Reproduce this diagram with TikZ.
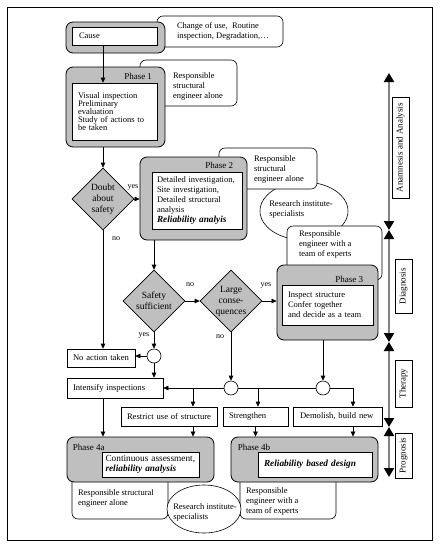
\documentclass[tikz,border=0pt]{standalone}
\usepackage{fontspec}
\setmainfont{Liberation Serif}
\usetikzlibrary{arrows.meta, positioning, shapes.geometric}
\newcommand{\fsbody}{\fontsize{8.5}{10}\selectfont}
\newcommand{\fstight}{\fontsize{8.5}{7.8}\selectfont\lineskiplimit=-6pt}
\newcommand{\fsbig}{\fontsize{9.3}{10.5}\selectfont}
\newcommand{\fsaction}{\fontsize{8.6}{10}\selectfont}
\newcommand{\fsdiamond}{\fontsize{9.5}{11}\selectfont}
\newcommand{\fstag}{\fontsize{9}{10}\selectfont}
\newcommand{\fsanswer}{\fontsize{8}{9}\selectfont}
\newcommand{\fsstage}{\fontsize{9}{10}\selectfont}

\begin{document}
\begin{tikzpicture}[x=1pt, y=-1pt, line width=0.6pt,
  >={Triangle[length=5pt,width=4.5pt]},
  stagetip/.tip={Triangle[length=9pt,width=10pt,color=black]},
  phase/.style={draw, fill=gray!50, rounded corners=7pt, line width=0.8pt, inner sep=0pt},
  inbox/.style={draw, fill=white, align=left, inner ysep=0pt, font=\fsbody},
  callout/.style={draw, fill=white, rounded corners=6pt, inner sep=0pt},
  notetext/.style={align=left, inner sep=0pt, font=\fsbody},
  bubble/.style={ellipse, draw, fill=white, inner sep=0pt},
  decision/.style={diamond, aspect=1, draw, fill=gray!50, inner sep=0pt, minimum width=62pt, minimum height=62pt, align=center, font=\fsdiamond},
  joint/.style={circle, draw, fill=white, minimum size=14pt, inner sep=0pt},
  action/.style={draw, fill=white, align=left, inner xsep=4pt, inner ysep=0pt, minimum height=19pt, font=\fsaction},
  phasetag/.style={inner sep=0pt, font=\fstag},
  answer/.style={inner sep=0pt, font=\fsanswer},
  stage/.style={draw, fill=white, rotate=90, inner sep=0pt, minimum height=17pt, font=\fsstage},
  axis/.style={draw=gray, line width=2pt, stagetip-stagetip}]

\useasboundingbox (0,0) rectangle (442,550);
\draw[line width=1pt] (7,7) rectangle (432,540);

% cause
\node[callout, minimum width=126pt, minimum height=31pt] (causecall) at (220,31.5) {};
\node[notetext, anchor=west] (causenote) at ([xshift=20pt]causecall.west) {Change of use,\ \ Routine\\inspection, Degradation,\dots};
\node[phase, minimum width=99pt, minimum height=31pt] (cause) at (115.5,37.5) {};
\node[inbox, inner xsep=7pt, text width=71pt, minimum height=18pt] (causetext) at (114.5,36) {Cause};

% phase 1
\node[callout, minimum width=97pt, minimum height=46pt] (onecall) at (188.5,83) {};
\node[notetext, anchor=west] (onenote) at ([shift={(33,3)}]onecall.west) {Responsible\\structural\\engineer alone};
\node[phase, minimum width=99pt, minimum height=80pt] (phaseone) at (115.5,107) {};
\node[inbox, font=\fstight, inner xsep=6pt, text width=73pt, minimum height=57pt] (phaseonetext) at (114.5,111.5)
  {Visual inspection\\Preliminary\\evaluation\\Study of actions to\\be taken};
\node[phasetag, anchor=base east] (phaseonetag) at ([shift={(-5,-3)}]phaseonetext.north east) {Phase 1};

% phases 2 and 3 with who does them
\node[bubble, minimum width=88pt, minimum height=58pt] (research) at (304,211) {};
\node[notetext, anchor=west] (researchnote) at ([shift={(-35,-1.5)}]research.center) {Research institute-\\specialists};
\node[callout, minimum width=98pt, minimum height=41pt] (twocall) at (268,168.5) {};
\node[notetext, anchor=west] (twonote) at ([shift={(35,0.5)}]twocall.west) {Responsible\\structural\\engineer alone};
\node[callout, minimum width=95pt, minimum height=54pt] (threecall) at (334.5,253) {};
\node[notetext, anchor=west] (threenote) at ([shift={(12,-8.5)}]threecall.west) {Responsible\\engineer with a\\team of experts};

\node[phase, minimum width=107pt, minimum height=83pt] (phasetwo) at (193.5,198.5) {};
\node[inbox, inner xsep=5pt, text width=80pt, minimum height=57pt] (phasetwotext) at (197,200.5)
  {Detailed investigation,\\Site investigation,\\Detailed structural\\analysis\\{\fsbig\textbf{\textit{Reliability analyis}}}};
\node[phasetag, anchor=base east] (phasetwotag) at ([shift={(-9,-3)}]phasetwotext.north east) {Phase 2};

\node[phase, minimum width=101pt, minimum height=75pt] (phasethree) at (327.5,302.5) {};
\node[inbox, inner xsep=6pt, text width=79pt, minimum height=40pt] (phasethreetext) at (327.5,305)
  {Inspect structure\\Confer together\\and decide as a team};
\node[phasetag, anchor=base east] (phasethreetag) at ([shift={(-10,-2)}]phasethreetext.north east) {Phase 3};

% decisions and joints
\node[decision] (doubt) at (103,199) {Doubt\\about\\safety};
\node[decision] (safety) at (154,301) {Safety\\sufficient};
\node[decision] (large) at (231,301) {Large\\conse-\\quences};

\node[joint] (jointone) at (154,356) {};
\node[joint] (jointtwo) at (231,388) {};
\node[joint] (jointthree) at (323,388) {};

% measures
\node[action, text width=60pt, minimum height=18pt] (noaction) at (101,358) {\hspace*{2pt}No action taken};
\node[action, text width=88pt, minimum height=20pt] (intensify) at (115,388) {\hspace*{2pt}Intensify inspections};
\node[action, text width=88pt] (restrict) at (169,416.5) {\hspace*{2pt}Restrict use of structure};
\node[action, text width=57pt] (strengthen) at (255.5,416.5) {\hspace*{2pt}Strengthen};
\node[action, text width=81pt] (demolish) at (337.5,416.5) {\hspace*{3pt}Demolish, build new};

\coordinate (brA) at (193,388);
\coordinate (brB) at (258,388);
\coordinate (brC) at (353,388);

% phase 4
\node[callout, minimum width=96pt, minimum height=49pt] (fouracall) at (120,494.5) {};
\node[notetext, anchor=west] (fouranote) at ([shift={(6,3.5)}]fouracall.west) {Responsible structural\\engineer alone};
\node[callout, minimum width=96pt, minimum height=49pt] (fourbcall) at (288,494.5) {};
\node[notetext, anchor=west] (fourbnote) at ([shift={(6,7)}]fourbcall.west) {Responsible\\engineer with a\\team of experts};
\node[bubble, minimum width=74pt, minimum height=48pt] (researchtwo) at (204,509) {};
\node[notetext, anchor=west] (researchtwonote) at ([shift={(-31,3)}]researchtwo.center) {Research institute-\\specialists};

\node[phase, minimum width=147pt, minimum height=45pt] (phasefoura) at (140.5,459.5) {};
\node[inbox, font=\fsbig, inner xsep=3.5pt, text width=90pt, minimum height=25pt] (phasefouratext) at (150.5,464.5)
  {Continuous assessment,\\\textbf{\textit{reliability analysis}}};
\node[phasetag, anchor=base west] (phasefouratag) at ([shift={(6,14)}]phasefoura.north west) {Phase 4a};

\node[phase, minimum width=147pt, minimum height=45pt] (phasefourb) at (304.5,459.5) {};
\node[inbox, font=\fsbig, inner xsep=6pt, text width=102pt, minimum height=25pt] (phasefourbtext) at (315,464.5)
  {\textbf{\textit{Reliability based design}}};
\node[phasetag, anchor=base west] (phasefourbtag) at ([shift={(7,14)}]phasefourb.north west) {Phase 4b};

% stages on the right
\coordinate (ax0) at (389,73);
\coordinate (ax1) at (389,230);
\coordinate (ax2) at (389,342);
\coordinate (ax3) at (389,427);
\coordinate (ax4) at (389,477);
\foreach \a/\b in {ax0/ax1, ax1/ax2, ax2/ax3, ax3/ax4}
  \draw[axis] (\a) -- (\b);

\node[stage, minimum width=101pt] (anamnesis) at (400.5,147.5) {Anamnesis and Analysis};
\node[stage, minimum width=54pt] (diagnosis) at (403.5,286) {Diagnosis};
\node[stage, minimum width=47pt] (therapy) at (403.5,383.5) {Therapy};
\node[stage, minimum width=45pt] (prognosis) at (403.5,455.5) {Prognosis};

% connectors
\draw[->] (causetext.south -| doubt.north) -- (phaseonetext.north -| doubt.north);
\draw[->] (doubt.north |- phaseone.south) -- (doubt.north);
\draw[->] (doubt.east) -- (doubt.east -| phasetwo.west);
\draw[->] (doubt.south) -- (doubt.south |- noaction.north);
\draw[->] (safety.north |- phasetwo.south) -- (safety.north);
\draw[->] (safety.east) -- (large.west);
\draw[->] (large.east) -- (large.east -| phasethree.west);
\draw[->] (safety.south) -- (jointone.north);
\draw[->] (jointone.west) -- (jointone.west -| noaction.east);
\draw[->] (jointone.south) -- (jointone.south |- intensify.north);
\draw[->] (large.south) -- (jointtwo.north);
\draw[->] (jointthree.north |- phasethree.south) -- (jointthree.north);
\draw[->] (jointtwo.west) -- (jointtwo.west -| intensify.east);
\draw (jointthree.west) -- (jointtwo.east);
\draw (jointthree.east) -- (brC);
\draw[->] (brA) -- (brA |- restrict.north);
\draw[->] (brB) -- (brB |- strengthen.north);
\draw[->] (brC) -- (brC |- demolish.north);
\draw[->] (intensify.south -| doubt.south) -- (phasefoura.north -| doubt.south);
\draw[->] (brA |- restrict.south) -- (brA |- phasefoura.north);
\draw[->] (strengthen.south) -- (strengthen.south |- phasefourb.north);
\draw[->] (brC |- demolish.south) -- (brC |- phasefourb.north);

\node[answer] (doubtyes) at (133,187) {yes};
\node[answer] (doubtno) at (116,239) {no};
\node[answer] (safetyno) at (190,285) {no};
\node[answer] (largeyes) at (266,285) {yes};
\node[answer] (largeno) at (220,337) {no};
\node[answer] (safetyyes) at (144,335) {yes};

\end{tikzpicture}
\end{document}
